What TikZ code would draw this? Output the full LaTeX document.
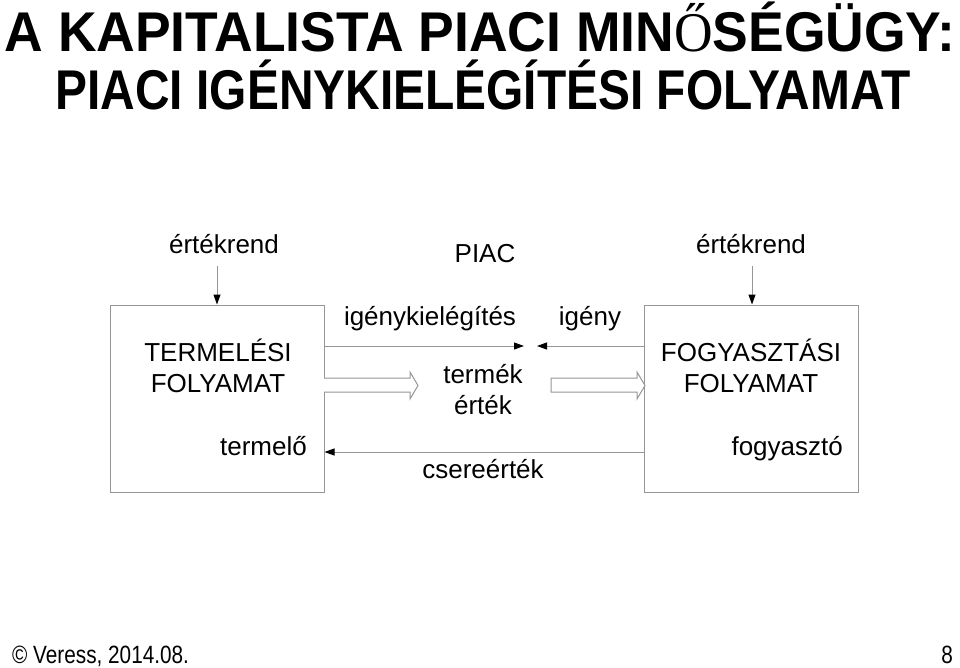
\documentclass[tikz,border=0pt]{standalone}
\usepackage{fontspec}
\setmainfont{Liberation Sans}
\newfontfamily\titlefont{Liberation Sans}
\newfontfamily\titleserif{Liberation Serif}
\newfontfamily\footfont[FakeStretch=0.83]{Liberation Sans}
\usetikzlibrary{arrows.meta}
\definecolor{edgegray}{RGB}{150,150,150}
\tikzset{
  txt/.style={inner sep=0pt,anchor=base,font=\fontsize{26}{30}\selectfont},
  headline/.style={inner sep=0pt,anchor=base,font=\titlefont\bfseries\fontsize{56}{60}\selectfont},
  procbox/.style={draw=edgegray,line width=1pt,minimum width=214pt,minimum height=187pt,inner sep=0pt},
  conn/.style={draw=edgegray,line width=1pt},
  tip/.style={-{Triangle[color=black,length=10pt,width=7pt]}},
  fat/.style={draw=edgegray,line width=1pt,fill=white}
}
\begin{document}
\begin{tikzpicture}[x=1pt,y=-1pt]
	\useasboundingbox (0,0) rectangle (960,667);
	% title
	\node[headline] (title1) at (480,51) {\scalebox{0.955}[1]{A KAPITALISTA PIACI MIN{\titleserif\mdseries Ő}SÉGÜGY:}};
	\node[headline] (title2) at (483,109) {\scalebox{0.855}[1]{PIACI IGÉNYKIELÉGÍTÉSI FOLYAMAT}};
	% boxes
	\node[procbox] (prodbox) at (217,398.5) {};
	\node[procbox] (consbox) at (751,398.5) {};
	\node[txt] (prod1) at (218,361) {TERMELÉSI};
	\node[txt] (prod2) at (218,392) {FOLYAMAT};
	\node[txt,anchor=base east] (prodlbl) at (307,455) {termelő};
	\node[txt] (cons1) at (751,361) {FOGYASZTÁSI};
	\node[txt] (cons2) at (751,392) {FOLYAMAT};
	\node[txt,anchor=base east] (conslbl) at (843,455) {fogyasztó};
	% value order
	\node[txt] (ertL) at (224,253) {értékrend};
	\node[txt] (ertR) at (751,253) {értékrend};
	\node[txt] (piac) at (485,262) {PIAC};
	\coordinate (ertLa) at (217,266);
	\coordinate (ertRa) at (752,266);
	\draw[conn,tip] (ertLa) -- (ertLa |- prodbox.north);
	\draw[conn,tip] (ertRa) -- (ertRa |- consbox.north);
	% demand
	\node[txt] (satisf) at (430,325) {igénykielégítés};
	\node[txt] (demand) at (590,325) {igény};
	\coordinate (meetL) at (524,346);
	\coordinate (meetR) at (537,346);
	\draw[conn,tip] (prodbox.east |- meetL) -- (meetL);
	\draw[conn,tip] (consbox.west |- meetR) -- (meetR);
	% product
	\node[txt] (prodct) at (483,383) {termék};
	\node[txt] (value) at (483,414) {érték};
	\draw[fat] (324,378) -- (410,378) -- (410,372) -- (418,385.5) -- (410,399) -- (410,392) -- (324,392);
	\draw[fat] (551,378) -- (637,378) -- (637,372) -- (645,385.5) -- (637,399) -- (637,392) -- (551,392) -- cycle;
	% exchange value
	\coordinate (exch) at (484,452);
	\node[txt] (exchlbl) at (483,478) {csereérték};
	\draw[conn,tip] (consbox.west |- exch) -- (prodbox.east |- exch);
	% footer
	\node[inner sep=0pt,anchor=base west] (foot) at (12,663) {\footfont\fontsize{25}{28}\selectfont © Veress, 2014.08.};
	\node[inner sep=0pt,anchor=base east] (page) at (953,663) {\footfont\fontsize{25}{28}\selectfont 8};
\end{tikzpicture}
\end{document}
